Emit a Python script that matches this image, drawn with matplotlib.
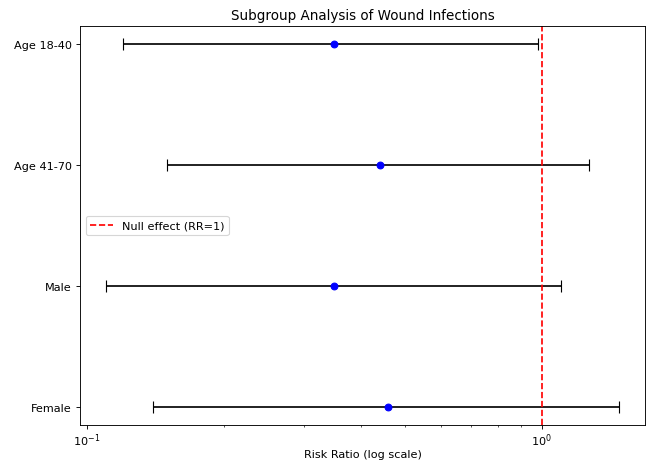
import matplotlib
matplotlib.use("Agg")
import matplotlib.pyplot as plt
import numpy as np

subgroups = ["Age 18-40", "Age 41-70", "Male", "Female"]
rr = [0.35, 0.44, 0.35, 0.46]
ci_low = [0.12, 0.15, 0.11, 0.14]
ci_high = [0.98, 1.27, 1.10, 1.48]

DPI = 81
fig = plt.figure(figsize=(651 / DPI, 463 / DPI), dpi=DPI)
ax = fig.add_axes([80 / 651, 1 - 426 / 463, 565 / 651, 399 / 463])

y = np.arange(len(subgroups))[::-1]
rr_a = np.array(rr)
err = [rr_a - np.array(ci_low), np.array(ci_high) - rr_a]
ax.errorbar(rr_a, y, xerr=err, fmt='o', color='blue', ecolor='black', capsize=5)
ax.axvline(1, color='red', linestyle='--', label='Null effect (RR=1)')
ax.set_xscale('log')
ax.set_yticks(y)
ax.set_yticklabels(subgroups)
ax.tick_params(axis='x', which='major', pad=2)
ax.set_xlabel('Risk Ratio (log scale)', labelpad=1)
ax.set_title('Subgroup Analysis of Wound Infections')
ax.legend(loc='center left')

fig.savefig('out.png', dpi=DPI)
